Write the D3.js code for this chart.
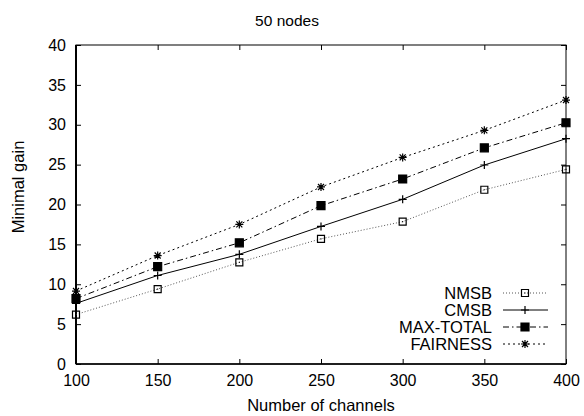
<!DOCTYPE html>
<html>
<head>
  <title>50 nodes</title>
  <script src="https://d3js.org/d3.v7.min.js"></script>
</head>
<body style="margin:0px; overflow:hidden; background:#fff;">
  <svg id="myPlot" width="584" height="416"></svg>
  <script>
    // Data
    const channels = [100, 150, 200, 250, 300, 350, 400];
    const nmsb     = [6.2, 9.4, 12.75, 15.7, 17.85, 21.85, 24.4];
    const cmsb     = [7.6, 11.1, 13.75, 17.25, 20.65, 24.95, 28.25];
    const maxTotal = [8.2, 12.2, 15.2, 19.85, 23.2, 27.1, 30.25];
    const fairness = [9.15, 13.6, 17.5, 22.2, 25.9, 29.3, 33.1];
    const seriesNames = ["NMSB", "CMSB", "MAX-TOTAL", "FAIRNESS"];
    const xTicks = [100, 150, 200, 250, 300, 350, 400];
    const yTicks = [0, 5, 10, 15, 20, 25, 30, 35, 40];

    // Dimensions
    const plotLeft = 76, plotRight = 566, plotTop = 45, plotBottom = 364;
    const font = "'Liberation Sans', Arial, sans-serif";

    const svg = d3.select("#myPlot");

    const x = d3.scaleLinear().domain([100, 400]).range([plotLeft, plotRight]);
    const y = d3.scaleLinear().domain([0, 40]).range([plotBottom, plotTop]);

    // Title
    svg.append("text")
      .attr("x", 287).attr("y", 26)
      .attr("text-anchor", "middle")
      .style("font-family", font).style("font-size", "15.5px")
      .text("50 nodes");

    // Axes (ticks pointing inward, mirrored on top/right)
    const styleAxis = g => {
      g.select(".domain").remove();
      g.selectAll("line").attr("stroke", "#000");
      g.selectAll("text").style("font-family", font).style("font-size", "16px").attr("fill", "#000");
    };

    svg.append("g")
      .attr("transform", "translate(0," + plotBottom + ")")
      .call(d3.axisBottom(x).tickValues(xTicks).tickSizeInner(-5).tickSizeOuter(0).tickPadding(11))
      .call(styleAxis);

    svg.append("g")
      .attr("transform", "translate(" + plotLeft + ",0)")
      .call(d3.axisLeft(y).tickValues(yTicks).tickSizeInner(-5).tickSizeOuter(0).tickPadding(10))
      .call(styleAxis);

    svg.append("g")
      .attr("transform", "translate(0," + plotTop + ")")
      .call(d3.axisTop(x).tickValues(xTicks).tickSizeInner(-5).tickSizeOuter(0).tickFormat(""))
      .call(styleAxis);

    svg.append("g")
      .attr("transform", "translate(" + plotRight + ",0)")
      .call(d3.axisRight(y).tickValues(yTicks).tickSizeInner(-5).tickSizeOuter(0).tickFormat(""))
      .call(styleAxis);

    // Frame
    svg.append("rect")
      .attr("x", plotLeft).attr("y", plotTop)
      .attr("width", plotRight - plotLeft).attr("height", plotBottom - plotTop)
      .attr("fill", "none").attr("stroke", "#000").attr("stroke-width", 1);
    svg.append("line").attr("x1", plotLeft).attr("x2", plotLeft).attr("y1", plotTop).attr("y2", plotBottom)
      .attr("stroke", "#000").attr("stroke-width", 2);
    svg.append("line").attr("x1", plotLeft).attr("x2", plotRight).attr("y1", plotBottom).attr("y2", plotBottom)
      .attr("stroke", "#000").attr("stroke-width", 1.6);

    // Axis labels
    svg.append("text")
      .attr("x", 321).attr("y", 411)
      .attr("text-anchor", "middle")
      .style("font-family", font).style("font-size", "16.5px")
      .text("Number of channels");

    svg.append("text")
      .attr("transform", "translate(24,187) rotate(-90)")
      .attr("text-anchor", "middle")
      .style("font-family", font).style("font-size", "16.5px")
      .text("Minimal gain");

    // Marker shapes
    const markers = {
      openSquare: "M-3.5,-3.5H3.5V3.5H-3.5Z M-0.5,0H0.5",
      plus: "M-4,0H4 M0,-4V4",
      filledSquare: "M-4,-4H4V4H-4Z",
      star: "M-4,0H4 M0,-4V4 M-3,-3L3,3 M-3,3L3,-3"
    };

    const series = [
      { name: seriesNames[0], values: nmsb,     color: "#555", dash: "1,2",       marker: "openSquare",   fill: "none" },
      { name: seriesNames[1], values: cmsb,     color: "#000", dash: null,        marker: "plus",         fill: "none" },
      { name: seriesNames[2], values: maxTotal, color: "#000", dash: "6,3,1.5,3", marker: "filledSquare", fill: "#000" },
      { name: seriesNames[3], values: fairness, color: "#000", dash: "2,3",       marker: "star",         fill: "none" }
    ];

    const line = d3.line()
      .x((d, i) => x(channels[i]))
      .y(d => y(d));

    series.forEach(s => {
      svg.append("path")
        .datum(s.values)
        .attr("d", line)
        .attr("fill", "none")
        .attr("stroke", s.color)
        .attr("stroke-width", 1)
        .attr("stroke-dasharray", s.dash);

      svg.append("g")
        .selectAll("path")
        .data(s.values).enter()
        .append("path")
        .attr("transform", (d, i) => "translate(" + x(channels[i]) + "," + y(d) + ")")
        .attr("d", markers[s.marker])
        .attr("fill", s.fill)
        .attr("stroke", "#000")
        .attr("stroke-width", 1.2);
    });

    // Legend
    const legend = svg.append("g");
    series.forEach((s, i) => {
      const ly = 293 + i * 17;
      legend.append("text")
        .attr("x", 492).attr("y", ly)
        .attr("dy", "0.36em")
        .attr("text-anchor", "end")
        .style("font-family", font).style("font-size", "16.5px")
        .text(s.name);
      legend.append("line")
        .attr("x1", 503).attr("x2", 548).attr("y1", ly).attr("y2", ly)
        .attr("stroke", s.color).attr("stroke-width", 1)
        .attr("stroke-dasharray", s.dash);
      legend.append("path")
        .attr("transform", "translate(525," + ly + ")")
        .attr("d", markers[s.marker])
        .attr("fill", s.fill)
        .attr("stroke", "#000")
        .attr("stroke-width", 1.2);
    });
  </script>
</body>
</html>
